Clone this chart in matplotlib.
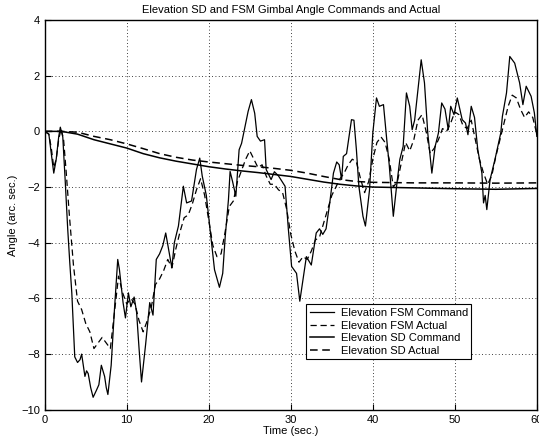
import matplotlib
matplotlib.use("Agg")
import matplotlib.pyplot as plt

plt.rcParams['font.family'] = ['Liberation Sans', 'DejaVu Sans']

fsm_cmd_t = [0, 0.5, 0.8, 1.1, 1.4, 1.7, 1.9, 2.2, 2.5, 2.8, 3.05, 3.3, 3.66, 4.0, 4.3, 4.5,
             4.9, 5.1, 5.3, 5.6, 5.9, 6.3, 6.6, 6.9, 7.1, 7.3, 7.5, 7.7, 8.1, 8.5, 8.9, 9.1,
             9.55, 9.84, 10.2, 10.5, 10.9, 11.2, 11.5, 11.8, 12.3, 12.8, 13.2, 13.6, 14.0,
             14.4, 14.75, 15.2, 15.5, 15.8, 16.3, 16.9, 17.3, 17.9, 18.5, 18.9, 19.2, 19.7,
             20.3, 20.7, 21.3, 21.7, 22.0, 22.4, 22.6, 22.9, 23.3, 23.7, 24.0, 24.5, 24.8,
             25.2, 25.6, 25.9, 26.3, 26.8, 27.0, 27.6, 28.0, 28.5, 29.3, 29.7, 30.1, 30.7,
             31.1, 31.4, 31.9, 32.5, 33.1, 33.5, 33.9, 34.3, 34.75, 35.2, 35.6, 35.9, 36.2,
             36.4, 36.8, 37.4, 37.7, 38.0, 38.3, 38.8, 39.1, 39.6, 40.0, 40.45, 40.8, 41.3,
             41.7, 42.0, 42.5, 42.9, 43.3, 43.7, 44.1, 44.5, 44.8, 45.1, 45.5, 45.9, 46.3,
             46.7, 47.2, 47.6, 48.0, 48.4, 48.8, 49.2, 49.5, 49.9, 50.3, 50.9, 51.3, 51.6,
             52.0, 52.4, 52.8, 53.3, 53.5, 53.7, 53.9, 54.3, 54.9, 55.6, 55.8, 56.3, 56.7,
             57.3, 57.9, 58.3, 58.7, 59.3, 59.7, 60.0]
fsm_cmd = [0, -0.1, -0.8, -1.5, -1.0, -0.2, 0.15, -0.2, -1.8, -3.5, -4.7, -5.8, -8.1, -8.3,
           -8.2, -8.0, -8.8, -8.6, -8.7, -9.2, -9.55, -9.3, -9.1, -8.4, -8.6, -8.8, -9.2,
           -9.45, -8.4, -6.4, -4.6, -4.95, -6.15, -6.7, -5.8, -6.3, -5.95, -6.5, -7.8, -9.0,
           -7.65, -6.15, -6.6, -4.6, -4.4, -4.1, -3.65, -4.4, -4.9, -4.0, -3.4, -1.97, -2.57,
           -2.5, -1.37, -0.96, -1.6, -2.3, -3.9, -4.97, -5.6, -5.1, -3.8, -2.45, -1.44, -1.8,
           -2.33, -0.66, -0.43, 0.3, 0.72, 1.14, 0.65, -0.18, -0.35, -0.3, -1.37, -1.73,
           -1.45, -1.6, -1.97, -3.5, -4.85, -5.1, -6.1, -5.5, -4.5, -4.8, -3.65, -3.5, -3.7,
           -3.5, -2.57, -1.5, -1.1, -1.2, -1.73, -0.9, -0.8, 0.42, 0.4, -0.66, -1.97, -3.05,
           -3.4, -2.1, -0.06, 1.2, 0.9, 0.96, -0.3, -1.2, -3.05, -1.97, -1.0, -0.54, 1.38,
           0.9, 0.06, 0.4, 1.5, 2.57, 1.74, -0.06, -1.5, -0.54, -0.06, 1.02, 0.8, 0.06, 0.9,
           0.6, 1.2, 0.42, 0.3, -0.12, 0.9, 0.5, -0.66, -1.5, -2.57, -2.3, -2.81, -1.73, -1.0,
           -0.06, 0.54, 1.38, 2.69, 2.45, 1.74, 0.96, 1.62, 1.26, 0.66, -0.18]

fsm_act_t = [0, 0.5, 0.8, 1.1, 1.4, 1.7, 2.0, 2.3, 2.6, 3.0, 3.5, 4.0, 4.5, 5.0, 5.5, 6.0,
             6.5, 7.0, 7.5, 8.0, 8.5, 9.0, 9.5, 10.0, 10.5, 11.0, 11.5, 12.0, 12.5, 13.0,
             13.5, 14.0, 14.5, 15.0, 15.5, 16.0, 16.5, 17.0, 17.5, 18.0, 18.5, 19.0, 19.5,
             20.0, 20.5, 21.0, 21.5, 22.0, 22.5, 23.0, 23.5, 24.0, 24.5, 25.0, 25.5, 26.0,
             26.5, 27.0, 27.5, 28.0, 28.5, 29.0, 29.5, 30.0, 30.5, 31.0, 31.5, 32.0, 32.5,
             33.0, 33.5, 34.0, 34.5, 35.0, 35.5, 36.0, 36.5, 37.0, 37.5, 38.0, 38.5, 39.0,
             39.5, 40.0, 40.5, 41.0, 41.5, 42.0, 42.5, 43.0, 43.5, 44.0, 44.5, 45.0, 45.5,
             46.0, 46.5, 47.0, 47.5, 48.0, 48.5, 49.0, 49.5, 50.0, 50.5, 51.0, 51.5, 52.0,
             52.5, 53.0, 53.5, 54.0, 54.5, 55.0, 55.5, 56.0, 56.5, 57.0, 57.5, 58.0, 58.5,
             59.0, 59.5, 60.0]
fsm_act = [0, -0.1, -0.6, -1.3, -1.0, -0.3, 0.1, -0.3, -1.4, -3.0, -4.8, -6.1, -6.4, -6.9,
           -7.2, -7.8, -7.6, -7.4, -7.6, -7.8, -6.5, -5.2, -5.8, -6.2, -6.0, -6.2, -6.8,
           -7.2, -6.8, -6.3, -5.5, -5.3, -5.0, -4.6, -4.9, -4.2, -3.6, -3.1, -3.0, -2.6,
           -2.1, -1.7, -2.3, -3.2, -4.1, -4.5, -4.4, -3.6, -2.7, -2.5, -1.8, -1.4, -1.0,
           -0.7, -1.0, -1.3, -1.2, -1.6, -1.9, -1.9, -2.1, -2.2, -2.8, -3.7, -4.3, -4.7,
           -4.5, -4.6, -4.3, -3.9, -3.8, -3.3, -2.8, -2.3, -2.0, -1.7, -1.5, -1.2, -1.0,
           -1.1, -1.7, -2.2, -1.8, -1.0, -0.4, -0.2, -0.4, -1.0, -2.0, -1.8, -1.1, -0.4,
           -0.7, -0.3, 0.4, 0.6, 0.0, -0.8, -0.6, -0.3, 0.1, 0.0, 0.3, 0.7, 0.6, 0.2, 0.1,
           0.4, -0.3, -1.0, -1.5, -1.9, -1.6, -0.9, -0.3, 0.3, 0.9, 1.3, 1.2, 0.8, 0.5, 0.7,
           0.5, -0.1]

sd_t = [0, 2, 4, 6, 8, 10, 12, 14, 16, 18, 20, 22, 24, 26, 28, 30, 32, 34, 36, 38, 40,
        45, 50, 55, 60]
sd_cmd = [0, 0, -0.1, -0.3, -0.45, -0.6, -0.8, -0.95, -1.07, -1.17, -1.27, -1.35, -1.42,
          -1.48, -1.55, -1.62, -1.72, -1.82, -1.9, -1.96, -2.0, -2.03, -2.06, -2.08, -2.05]
sd_act = [0, 0, -0.03, -0.18, -0.3, -0.45, -0.62, -0.8, -0.93, -1.03, -1.1, -1.16, -1.22,
          -1.27, -1.33, -1.4, -1.5, -1.62, -1.73, -1.8, -1.83, -1.85, -1.85, -1.86, -1.85]

x_ticks = [0, 10, 20, 30, 40, 50, 60]
y_ticks = [-10, -8, -6, -4, -2, 0, 2, 4]

fig = plt.figure(figsize=(5.39, 4.44), dpi=100)
ax = fig.add_axes([0.083, 0.077, 0.913, 0.878])

ax.plot(fsm_cmd_t, fsm_cmd, color='black', lw=0.9, label='Elevation FSM Command')
ax.plot(fsm_act_t, fsm_act, color='black', lw=0.9, ls=(0, (5, 3)), label='Elevation FSM Actual')
ax.plot(sd_t, sd_cmd, color='black', lw=1.1, label='Elevation SD Command')
ax.plot(sd_t, sd_act, color='black', lw=1.1, ls=(0, (5, 3)), label='Elevation SD Actual')

ax.set_xlim(0, 60)
ax.set_ylim(-10, 4)
ax.set_xticks(x_ticks)
ax.set_yticks(y_ticks)
ax.tick_params(direction='in', labelsize=8, length=4, color='black')
ax.grid(True, color='black', ls=(0, (1, 3)), lw=0.6)
for s in ax.spines.values():
    s.set_color('black')
    s.set_linewidth(1.0)

ax.set_title('Elevation SD and FSM Gimbal Angle Commands and Actual', fontsize=8, pad=5)
ax.set_xlabel('Time (sec.)', fontsize=8, labelpad=1)
ax.set_ylabel('Angle (arc. sec.)', fontsize=8, labelpad=2)

leg = ax.legend(loc='lower left', bbox_to_anchor=(0.52, 0.115), fontsize=8,
                frameon=True, fancybox=False, edgecolor='black', framealpha=1,
                handlelength=2.2, borderpad=0.3, labelspacing=0.25, handletextpad=0.6)
leg.get_frame().set_linewidth(0.8)

fig.savefig('out.png', dpi=100)
